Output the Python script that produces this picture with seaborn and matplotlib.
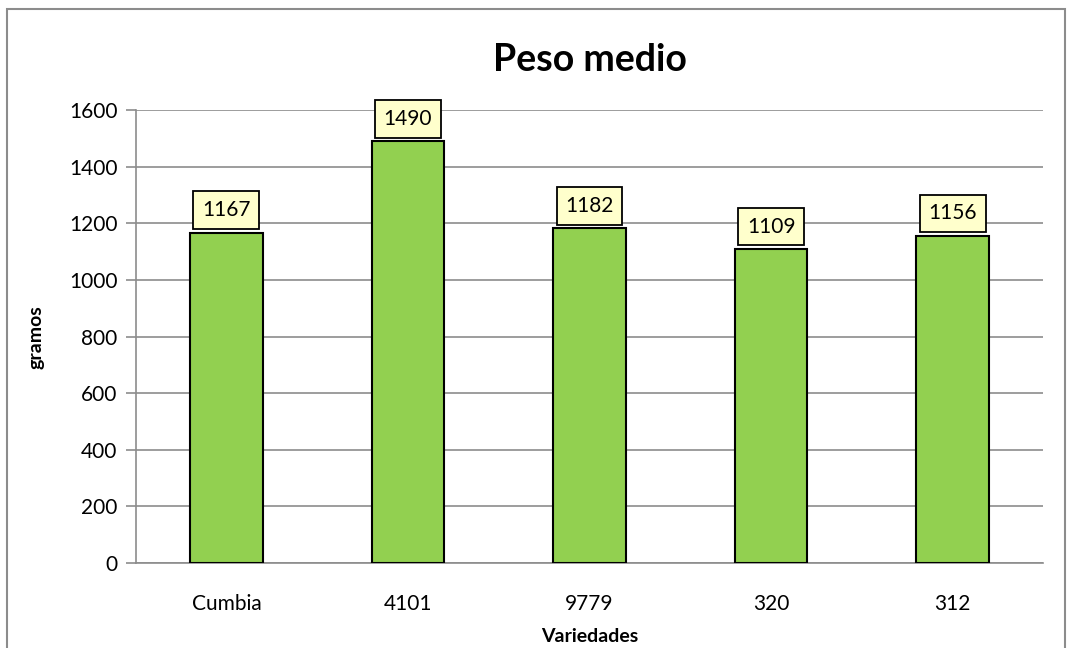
import matplotlib
matplotlib.use("Agg")
import matplotlib.pyplot as plt
import seaborn as sns
import pandas as pd

variedades = ["Cumbia", "4101", "9779", "320", "312"]
peso_medio = [1167, 1490, 1182, 1109, 1156]

sns.set_theme(style="white")
plt.rcParams["font.family"] = ["Lato", "DejaVu Sans"]
plt.rcParams["text.color"] = "black"
plt.rcParams["axes.labelcolor"] = "black"
plt.rcParams["xtick.color"] = "black"
plt.rcParams["ytick.color"] = "black"

df = pd.DataFrame({"Variedades": variedades, "gramos": peso_medio})

fig = plt.figure(figsize=(10.68, 6.48), dpi=100)
ax = fig.add_axes([0.127, 0.131, 0.850, 0.699])

sns.barplot(data=df, x="Variedades", y="gramos", color="#92D050",
            saturation=1, width=0.4, edgecolor="black", linewidth=1.5,
            ax=ax, zorder=3)

ax.set_ylim(0, 1600)
ax.set_yticks(range(0, 1601, 200))
ax.yaxis.grid(True, color="#8c8c8c", linewidth=1.2, zorder=0)
ax.set_axisbelow(True)
for side in ["top", "right"]:
    ax.spines[side].set_visible(False)
for side in ["left", "bottom"]:
    ax.spines[side].set_color("#8c8c8c")
    ax.spines[side].set_linewidth(1.2)
ax.tick_params(axis="y", which="major", left=True, length=7, width=1.2,
               color="#8c8c8c", labelcolor="black", labelsize=15, pad=6)
ax.tick_params(axis="x", bottom=False, labelcolor="black", labelsize=15, pad=16)

ax.set_xlabel("Variedades", fontsize=14, fontweight="bold", labelpad=10)
ax.set_ylabel("gramos", fontsize=14, fontweight="bold", labelpad=18)
ax.set_title("Peso medio", fontsize=27, fontweight="bold", pad=28)

for i, v in enumerate(peso_medio):
    ax.annotate(str(v), xy=(i, v), xytext=(0, 9), textcoords="offset points",
                ha="center", va="bottom", fontsize=15, zorder=5,
                bbox=dict(boxstyle="square,pad=0.42", facecolor="#FFFFCC",
                          edgecolor="black", linewidth=1.3))

# chart area border
fig.patches.append(plt.Rectangle((0.007, -0.01), 0.99, 0.996, transform=fig.transFigure,
                                 fill=False, edgecolor="#8c8c8c", linewidth=1.5))

fig.savefig("out.png", dpi=100)
